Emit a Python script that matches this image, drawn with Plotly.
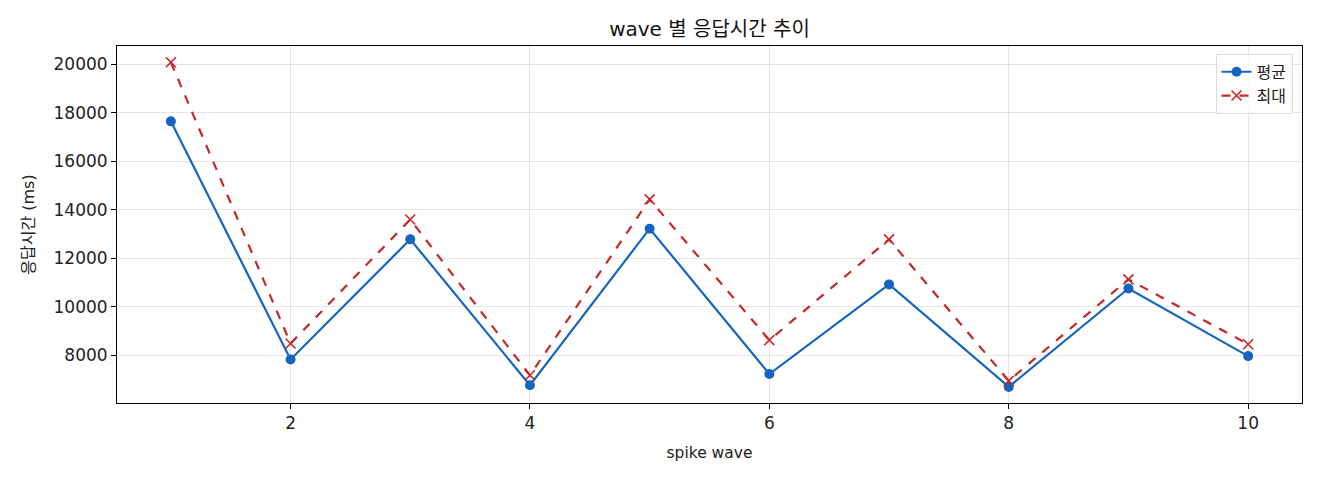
import plotly.graph_objects as go

waves = [1, 2, 3, 4, 5, 6, 7, 8, 9, 10]
avg_ms = [17650, 7820, 12780, 6760, 13220, 7220, 10920, 6690, 10750, 7960]
max_ms = [20090, 8480, 13600, 7170, 14430, 8620, 12780, 6940, 11130, 8450]
x_ticks = [2, 4, 6, 8, 10]
y_ticks = [8000, 10000, 12000, 14000, 16000, 18000, 20000]
y_tick_text = [str(v) for v in y_ticks]

FONT = "DejaVu Sans, Noto Sans CJK KR"
BLUE = "#1565C0"
RED = "#C62828"

fig = go.Figure()
fig.add_trace(go.Scatter(
    x=waves, y=avg_ms, name="평균", mode="lines+markers",
    line=dict(color=BLUE, width=2.2),
    marker=dict(symbol="circle", size=10, color=BLUE),
))
fig.add_trace(go.Scatter(
    x=waves, y=max_ms, name="최대", mode="lines+markers",
    line=dict(color=RED, width=2.2, dash="dash"),
    marker=dict(symbol="x-thin", size=10, color=RED, line=dict(color=RED, width=1.6)),
))

axis_common = dict(
    showline=True, linecolor="black", linewidth=1, mirror=True,
    ticks="outside", ticklen=5, tickcolor="black", tickwidth=1,
    showgrid=True, gridcolor="rgba(0,0,0,0.1)", gridwidth=1,
    zeroline=False, tickfont=dict(family=FONT, size=17, color="#222"),
)

fig.update_layout(
    width=1320, height=480,
    margin=dict(l=117, r=18, t=46, b=77),
    paper_bgcolor="white", plot_bgcolor="white",
    font=dict(family=FONT, color="#222"),
    title=dict(text="wave 별 응답시간 추이", x=(117 + 1302) / 2 / 1320, xanchor="center",
               y=1 - 29 / 480, yanchor="middle", font=dict(family=FONT, size=20, color="#111")),
    xaxis=dict(range=[0.55, 10.45], tickvals=x_ticks,
               title=dict(text="spike wave", font=dict(family=FONT, size=15.5), standoff=14),
               **axis_common),
    yaxis=dict(range=[6025, 20760], tickvals=y_ticks, ticktext=y_tick_text,
               title=dict(text="응답시간 (ms)", font=dict(family=FONT, size=16), standoff=14),
               **axis_common),
    legend=dict(x=0.992, y=0.978, xanchor="right", yanchor="top",
                bgcolor="rgba(255,255,255,0.8)", bordercolor="#ddd", borderwidth=1,
                font=dict(family=FONT, size=16), tracegroupgap=6),
    showlegend=True,
)

fig.write_html("out.html", config={"displayModeBar": False},
               post_script="document.body.style.margin='0';document.body.style.padding='0';")
